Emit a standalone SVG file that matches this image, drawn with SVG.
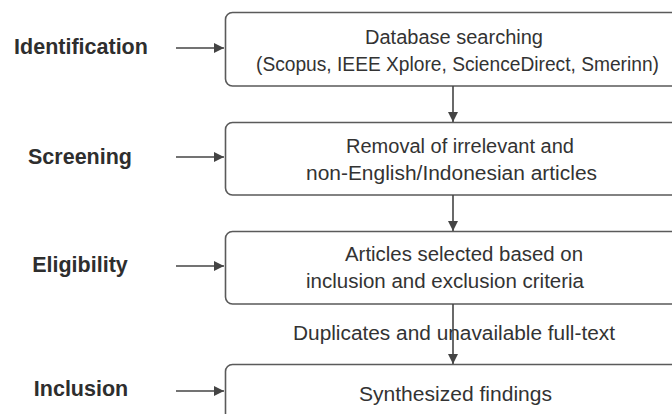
<svg xmlns="http://www.w3.org/2000/svg" width="672" height="414" viewBox="0 0 672 414">
<style>
.box{fill:#fff;stroke:#5a5a5a;stroke-width:1.6}
.lab{font-family:"Liberation Sans",Arial,sans-serif;font-weight:bold;font-size:21.5px;fill:#2e2e2e;text-anchor:middle}
.txt{font-family:"Liberation Sans",Arial,sans-serif;font-size:20px;fill:#333;text-anchor:start}
.con{stroke:#444;stroke-width:1.6;fill:none}
</style>
<defs>
<marker id="ah" viewBox="0 0 10 10" refX="10" refY="5" markerWidth="10" markerHeight="10" markerUnits="userSpaceOnUse" orient="auto">
<path d="M0,0 L10,5 L0,10 z" fill="#444"/>
</marker>
</defs>
<rect width="672" height="414" fill="#fff"/>
<g id="label-identification"><text class="lab" x="81" y="54">Identification</text></g>
<g id="label-screening"><text class="lab" x="80" y="164">Screening</text></g>
<g id="label-eligibility"><text class="lab" x="80" y="272">Eligibility</text></g>
<g id="label-inclusion"><text class="lab" x="81" y="396">Inclusion</text></g>
<g id="node-database">
<rect class="box" x="225.5" y="12.5" width="480" height="73.5" rx="7"/>
<text class="txt" x="365" y="44" textLength="178" lengthAdjust="spacingAndGlyphs">Database searching</text>
<text class="txt" x="256" y="71" textLength="403" lengthAdjust="spacingAndGlyphs">(Scopus, IEEE Xplore, ScienceDirect, Smerinn)</text>
</g>
<g id="node-removal">
<rect class="box" x="225.5" y="122.5" width="480" height="72.5" rx="7"/>
<text class="txt" x="346" y="153" textLength="228" lengthAdjust="spacingAndGlyphs">Removal of irrelevant and</text>
<text class="txt" x="306" y="180" textLength="291" lengthAdjust="spacingAndGlyphs">non-English/Indonesian articles</text>
</g>
<g id="node-articles">
<rect class="box" x="225.5" y="231.5" width="480" height="72.5" rx="7"/>
<text class="txt" x="345" y="261" textLength="238" lengthAdjust="spacingAndGlyphs">Articles selected based on</text>
<text class="txt" x="306" y="288" textLength="278" lengthAdjust="spacingAndGlyphs">inclusion and exclusion criteria</text>
</g>
<g id="node-synth">
<rect class="box" x="225.5" y="364.5" width="480" height="80" rx="7"/>
<text class="txt" x="359" y="401" textLength="193" lengthAdjust="spacingAndGlyphs">Synthesized findings</text>
</g>
<g id="connectors">
<line class="con" x1="176" y1="48" x2="224" y2="48" marker-end="url(#ah)"/>
<line class="con" x1="176" y1="157" x2="224" y2="157" marker-end="url(#ah)"/>
<line class="con" x1="176" y1="266" x2="224" y2="266" marker-end="url(#ah)"/>
<line class="con" x1="176" y1="391" x2="224" y2="391" marker-end="url(#ah)"/>
<line class="con" x1="453" y1="86" x2="453" y2="122" marker-end="url(#ah)"/>
<line class="con" x1="453" y1="195" x2="453" y2="231" marker-end="url(#ah)"/>
<text class="txt" x="293" y="340" textLength="322" lengthAdjust="spacingAndGlyphs">Duplicates and unavailable full-text</text>
<line class="con" x1="453" y1="304" x2="453" y2="364" marker-end="url(#ah)"/>
</g>
</svg>
